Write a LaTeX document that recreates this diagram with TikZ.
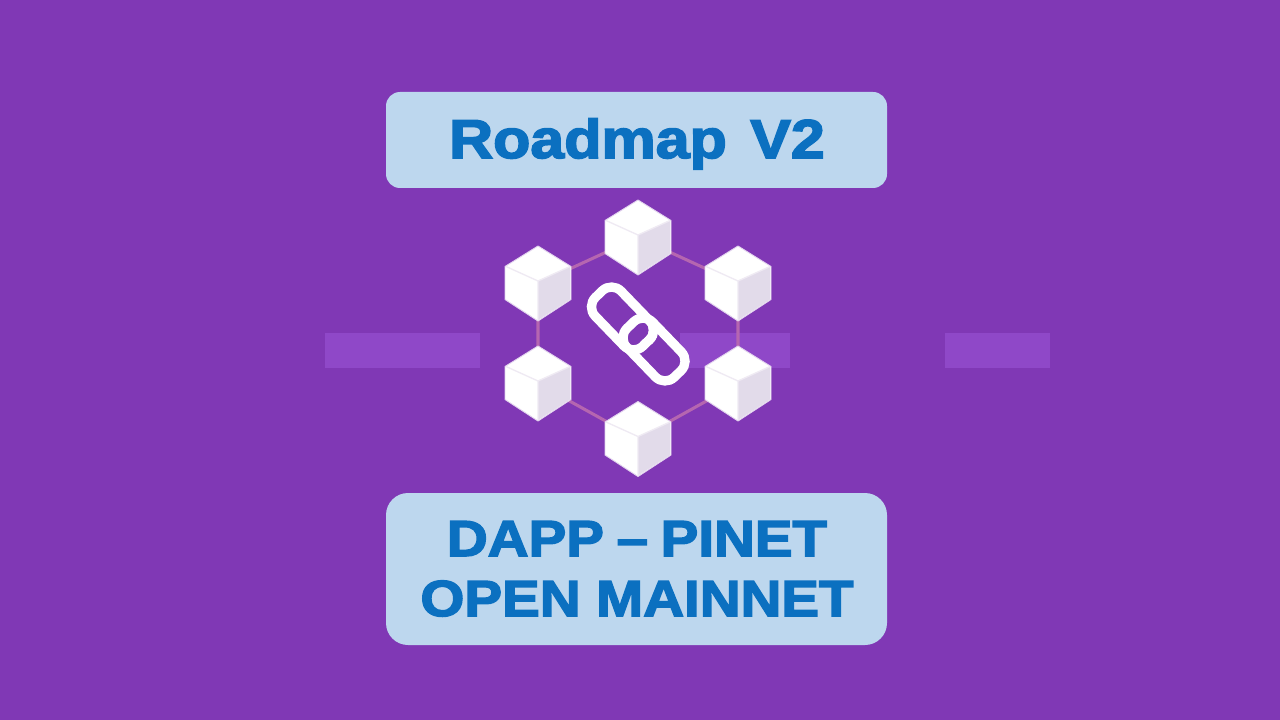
\documentclass[tikz,border=0pt]{standalone}
\usepackage{fontspec}
\setmainfont{Liberation Sans}
\newfontfamily\heavyfont[FakeStretch=1.115,BoldFont={Liberation Sans Bold},BoldFeatures={FakeBold=3}]{Liberation Sans}
\definecolor{bgc}{HTML}{8038B5}
\definecolor{barc}{HTML}{8F48C8}
\definecolor{boxc}{HTML}{BDD7EE}
\definecolor{txtc}{HTML}{0B70C0}
\definecolor{edgec}{HTML}{B566B0}
\definecolor{sidec}{HTML}{E2DBEA}
\definecolor{foldc}{HTML}{EFEAF3}
\definecolor{halo}{HTML}{E2D2EE}
\tikzset{
  panel/.style={fill=boxc,draw=none,inner sep=0pt},
  titletext/.style={text=txtc,font=\heavyfont\bfseries\fontsize{41}{45}\selectfont,align=center,inner sep=0pt},
  subtext/.style={titletext,font=\heavyfont\bfseries\fontsize{38}{45}\selectfont},
  bandbar/.style={fill=barc,draw=none},
  chainedge/.style={draw=edgec,line width=2.3pt},
  linkring/.style={draw=white,line width=7pt,rounded corners=10pt,rotate=-46,minimum width=51pt,minimum height=27pt,inner sep=0pt},
  cube/.pic={
    \fill[white,draw=halo,line width=0.7pt,line join=round] (0,-37.5)--(33,-17)--(33,16)--(0,37.5)--(-33,16)--(-33,-17)--cycle;
    \fill[sidec] (0,-2.5)--(32,-17)--(32,16)--(0,36.5)--cycle;
    \draw[foldc,line width=1pt] (-32,-17)--(0,-2.5)--(32,-17) (0,-2.5)--(0,36.5);
  }
}
\begin{document}
\begin{tikzpicture}[x=0.75pt,y=-0.75pt]
\useasboundingbox (0,0) rectangle (1280,720);
\fill[bgc] (0,0) rectangle (1280,720);
\fill[bandbar] (325,333) rectangle (480,368);
\fill[bandbar] (680,333) rectangle (790,368);
\fill[bandbar] (945,333) rectangle (1050,368);
\node[panel,rounded corners=10.5pt,minimum width=375.75pt,minimum height=72pt] (top) at (636.5,140) {};
\node[panel,rounded corners=16.5pt,minimum width=375.75pt,minimum height=114pt] (bottom) at (636.5,569) {};
\node[titletext,anchor=base] (title) at (637,158) {Roadmap\hspace{0.12em} V2};
\node[subtext,anchor=base] (subone) at (637,556) {DAPP\hspace{-0.06em} –\hspace{-0.06em} PINET};
\node[subtext,anchor=base] (subtwo) at (637,616) {OPEN MAINNET};
\coordinate (c1) at (638,237.5);
\coordinate (c2) at (738,283.5);
\coordinate (c3) at (738,383.5);
\coordinate (c4) at (638,439);
\coordinate (c5) at (538,383.5);
\coordinate (c6) at (538,283.5);
\draw[chainedge] (c1)--(c2)--(c3)--(c4)--(c5)--(c6)--cycle;
\foreach \c in {c1,c2,c3,c4,c5,c6} \pic at (\c) {cube};
\node[linkring] (linka) at (622.5,318.5) {};
\node[linkring] (linkb) at (654,349.5) {};
\begin{scope}
\clip (640,316) rectangle (675,343);
\node[linkring] (linkc) at (622.5,318.5) {};
\end{scope}
\end{tikzpicture}
\end{document}
